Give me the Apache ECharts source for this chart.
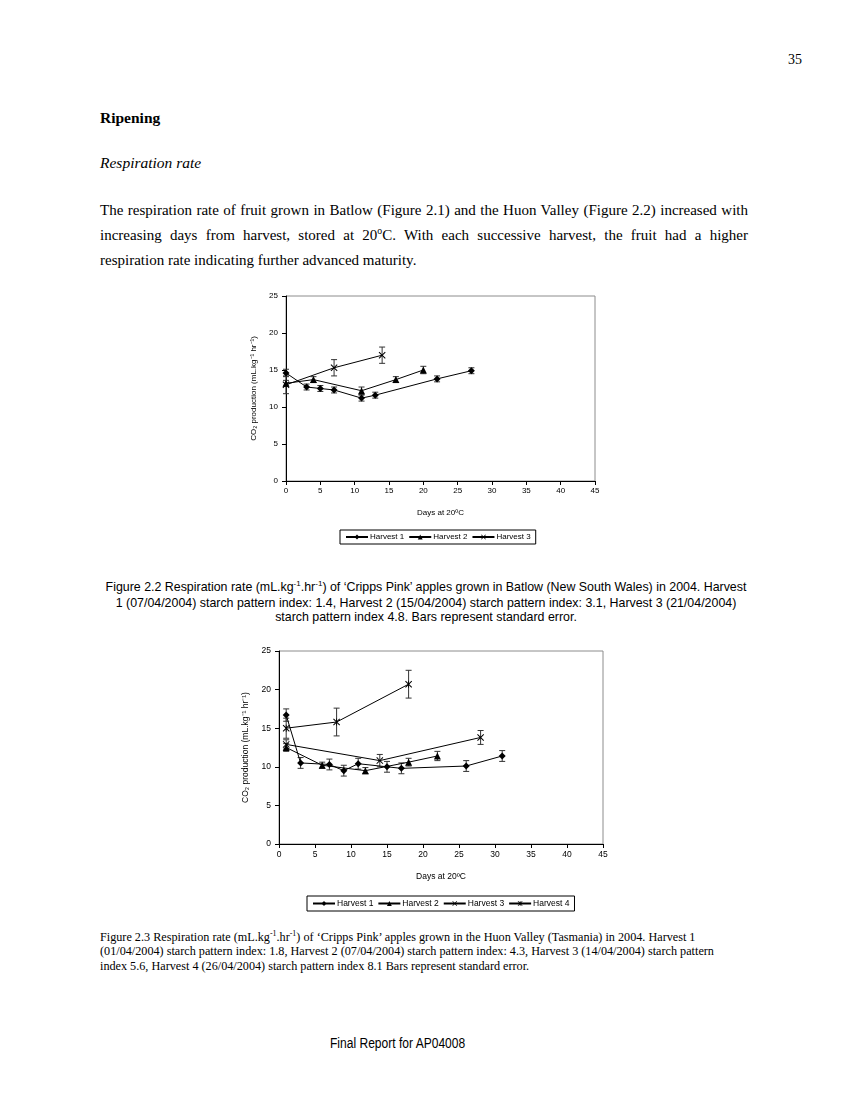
<!DOCTYPE html>
<html><head><meta charset="utf-8">
<script src="https://cdn.jsdelivr.net/npm/echarts@6/dist/echarts.min.js"></script>
<style>
html,body{margin:0;padding:0;background:#fff;}
#page{position:relative;width:850px;height:1100px;background:#fff;color:#000;overflow:hidden;}
.t{position:absolute;white-space:nowrap;line-height:20px;}
.serif{font-family:"Liberation Serif","Times New Roman",serif;}
.just{text-align:justify;text-align-last:justify;white-space:normal;width:648px;}
sup{font-size:65%;line-height:0;vertical-align:super;}
.cap1{font-family:"Liberation Sans",Arial,sans-serif;font-size:12.4px;left:0;width:852px;text-align:center;line-height:16px;}
.cap2{font-family:"Liberation Serif","Times New Roman",serif;font-size:12.2px;left:100px;line-height:14px;}
#c1{position:absolute;left:240px;top:285px;width:380px;height:270px;}
#c2{position:absolute;left:230px;top:640px;width:400px;height:285px;}
</style></head>
<body><div id="page">
<div class="t serif" style="left:788px;top:50px;font-size:14px;">35</div>
<div class="t serif" style="left:100px;top:108px;font-size:15.5px;font-weight:bold;">Ripening</div>
<div class="t serif" style="left:100px;top:153px;font-size:15.5px;font-style:italic;">Respiration rate</div>
<div class="t serif just" style="left:100px;top:200px;font-size:15px;">The respiration rate of fruit grown in Batlow (Figure 2.1) and the Huon Valley (Figure 2.2) increased with</div>
<div class="t serif just" style="left:100px;top:225px;font-size:15px;">increasing days from harvest, stored at 20<sup>o</sup>C. With each successive harvest, the fruit had a higher</div>
<div class="t serif" style="left:100px;top:250px;font-size:15px;">respiration rate indicating further advanced maturity.</div>

<div id="c1"></div>

<div class="t cap1" style="top:579px;">Figure 2.2 Respiration rate (mL.kg<sup>-1</sup>.hr<sup>-1</sup>) of ‘Cripps Pink’ apples grown in Batlow (New South Wales) in 2004. Harvest</div>
<div class="t cap1" style="top:595px;">1 (07/04/2004) starch pattern index: 1.4, Harvest 2 (15/04/2004) starch pattern index: 3.1, Harvest 3 (21/04/2004)</div>
<div class="t cap1" style="top:609px;">starch pattern index 4.8. Bars represent standard error.</div>

<div id="c2"></div>

<div class="t cap2" style="top:930px;">Figure 2.3 Respiration rate (mL.kg<sup>-1</sup>.hr<sup>-1</sup>) of ‘Cripps Pink’ apples grown in the Huon Valley (Tasmania) in 2004. Harvest 1</div>
<div class="t cap2" style="top:944px;">(01/04/2004) starch pattern index: 1.8, Harvest 2 (07/04/2004) starch pattern index: 4.3, Harvest 3 (14/04/2004) starch pattern</div>
<div class="t cap2" style="top:959px;">index 5.6, Harvest 4 (26/04/2004) starch pattern index 8.1 Bars represent standard error.</div>

<div class="t" style="left:330px;top:1033px;font-size:14px;transform:scaleX(0.86);transform-origin:0 50%;font-family:'Liberation Sans Narrow','Arial Narrow','Liberation Sans',sans-serif;">Final Report for AP04008</div>
</div>
<script>
// ---- Figure 2.2 (Batlow) ----
const f1Names = ['Harvest 1','Harvest 2','Harvest 3'];
const f1Days1 = [0,3,5,7,11,13,22,27];
const f1Resp1 = [14.6,12.7,12.5,12.3,11.2,11.6,13.8,14.9];
const f1Se1   = [0.5,0.4,0.4,0.4,0.4,0.4,0.4,0.4];
const f1Days2 = [0,4,11,16,20];
const f1Resp2 = [13.2,13.7,12.2,13.7,15.0];
const f1Se2   = [0.4,0.4,0.5,0.4,0.5];
const f1Days3 = [0,7,14];
const f1Resp3 = [13.0,15.3,17.0];
const f1Se3   = [1.2,1.1,1.1];

// ---- Figure 2.3 (Huon Valley) ----
const f2Names = ['Harvest 1','Harvest 2','Harvest 3','Harvest 4'];
const f2Days1 = [1,3,7,9,11,15,17,26,31];
const f2Resp1 = [16.7,10.5,10.3,9.5,10.4,10.0,9.8,10.1,11.4];
const f2Se1   = [0.8,0.7,0.7,0.7,0.7,0.7,0.7,0.7,0.7];
const f2Days2 = [1,6,12,18,22];
const f2Resp2 = [12.5,10.2,9.5,10.6,11.4];
const f2Se2   = [0.5,0.4,0.4,0.5,0.6];
const f2Days3 = [1,14,28];
const f2Resp3 = [12.9,10.8,13.8];
const f2Se3   = [0.6,0.8,0.9];
const f2Days4 = [1,8,18];
const f2Resp4 = [15.0,15.8,20.7];
const f2Se4   = [1.3,1.8,1.8];

const xTicks = [0,5,10,15,20,25,30,35,40,45];
const yTicks = [0,5,10,15,20,25];

const SYM_X = 'path://M0,1L1,0L5,4L9,0L10,1L6,5L10,9L9,10L5,6L1,10L0,9L4,5Z';
const SYM_AST = 'path://M0,1L1,0L5,4L9,0L10,1L6,5L10,9L9,10L5,6L1,10L0,9L4,5ZM4.4,0L5.6,0L5.6,10L4.4,10Z';
const symbols = [
  {symbol:'diamond', size:7},
  {symbol:'triangle', size:7},
  {symbol:SYM_X, size:7},
  {symbol:SYM_AST, size:7}
];

function pairs(xs, ys){ return xs.map((x,i)=>[x, ys[i]]); }
function errData(xs, ys, se){ return xs.map((x,i)=>[x, ys[i]-se[i], ys[i]+se[i]]); }

function errSeries(data){
  return {
    type:'custom', silent:true, z:1,
    renderItem:function(params, api){
      const x = api.value(0);
      const lo = api.coord([x, api.value(1)]);
      const hi = api.coord([x, api.value(2)]);
      const w = 3;
      const st = {stroke:'#333', lineWidth:1};
      return {type:'group', children:[
        {type:'line', shape:{x1:lo[0], y1:lo[1], x2:hi[0], y2:hi[1]}, style:st},
        {type:'line', shape:{x1:lo[0]-w, y1:lo[1], x2:lo[0]+w, y2:lo[1]}, style:st},
        {type:'line', shape:{x1:hi[0]-w, y1:hi[1], x2:hi[0]+w, y2:hi[1]}, style:st}
      ]};
    },
    encode:{x:0, y:[1,2]},
    data:data
  };
}

function lineSeries(name, idx, xs, ys){
  const s = symbols[idx];
  return {
    name:name, type:'line', z:3,
    data:pairs(xs, ys),
    symbol:s.symbol, symbolSize:s.size, showAllSymbol:true,
    lineStyle:{color:'#000', width:1},
    itemStyle:{color:'#000', borderWidth:0},
    emphasis:{disabled:true}, animation:false
  };
}

function makeOption(cfg){
  const series = [];
  cfg.sets.forEach((st,i)=>{
    series.push(errSeries(errData(st.x, st.y, st.se)));
  });
  cfg.sets.forEach((st,i)=>{
    series.push(lineSeries(cfg.names[i], i, st.x, st.y));
  });
  const fs = cfg.fs;
  return {
    animation:false,
    textStyle:{fontFamily:'"Liberation Sans", Arial, sans-serif'},
    grid:{left:cfg.grid[0], top:cfg.grid[1], width:cfg.grid[2], height:cfg.grid[3],
          show:true, borderColor:'#8c8c8c', borderWidth:1, backgroundColor:'#fff'},
    legend:{data:cfg.names, left:cfg.legend[0], top:cfg.legend[1],
      orient:'horizontal', itemWidth:22, itemHeight:6, itemGap:4,
      padding:[3,5,3,5], borderColor:'#000', borderWidth:1, borderRadius:0,
      textStyle:{fontSize:fs, color:'#000', padding:[0,0,0,-3]}, selectedMode:false},
    xAxis:{type:'value', min:0, max:45, interval:5,
      name:'Days at 20\u00BAC', nameLocation:'middle', nameGap:cfg.xGap,
      nameTextStyle:{fontSize:fs, color:'#000'},
      axisLine:{show:true, onZero:false, lineStyle:{color:'#000', width:1}},
      axisTick:{show:true, length:4, inside:false, lineStyle:{color:'#000'}},
      axisLabel:{fontSize:fs, color:'#000', margin:6,
        formatter:function(v){ return xTicks.indexOf(v)>=0 ? String(v) : ''; }},
      splitLine:{show:false}},
    yAxis:{type:'value', min:0, max:25, interval:5,
      name:'CO\u2082 production (mL.kg\u207B\u00B9 hr\u207B\u00B9)', nameLocation:'middle', nameGap:cfg.yGap,
      nameTextStyle:{fontSize:fs, color:'#000'},
      axisLine:{show:true, onZero:false, lineStyle:{color:'#000', width:1}},
      axisTick:{show:true, length:4, inside:false, lineStyle:{color:'#000'}},
      axisLabel:{fontSize:fs, color:'#000', margin:8,
        formatter:function(v){ return yTicks.indexOf(v)>=0 ? String(v) : ''; }},
      splitLine:{show:false}},
    series:series
  };
}

const c1 = echarts.init(document.getElementById('c1'), null, {renderer:'canvas'});
c1.setOption(makeOption({
  names:f1Names, fs:8,
  grid:[46,11,309,185], legend:[100,245], xGap:28, yGap:19,
  sets:[
    {x:f1Days1, y:f1Resp1, se:f1Se1},
    {x:f1Days2, y:f1Resp2, se:f1Se2},
    {x:f1Days3, y:f1Resp3, se:f1Se3}
  ]
}));

const c2 = echarts.init(document.getElementById('c2'), null, {renderer:'canvas'});
c2.setOption(makeOption({
  names:f2Names, fs:8.5,
  grid:[49,11,324,193], legend:[77,256], xGap:28, yGap:22,
  sets:[
    {x:f2Days1, y:f2Resp1, se:f2Se1},
    {x:f2Days2, y:f2Resp2, se:f2Se2},
    {x:f2Days3, y:f2Resp3, se:f2Se3},
    {x:f2Days4, y:f2Resp4, se:f2Se4}
  ]
}));
</script>
</body></html>
